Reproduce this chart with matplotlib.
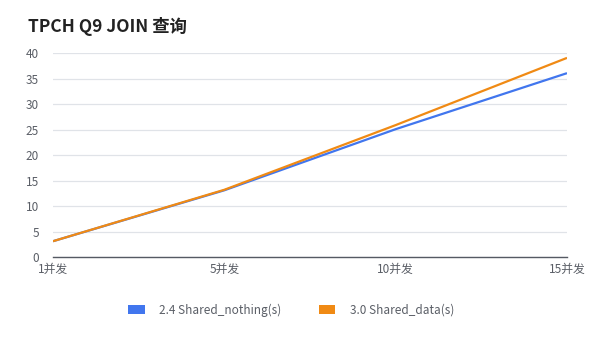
import matplotlib
matplotlib.use('Agg')
import matplotlib.pyplot as plt
from matplotlib.patches import Patch

plt.rcParams['font.family'] = ['Noto Sans CJK SC', 'DejaVu Sans']

categories = ['1并发', '5并发', '10并发', '15并发']
shared_nothing = [3.1, 13.1, 25.1, 36.1]
shared_data = [3.1, 13.2, 25.9, 39.1]
series_names = ['2.4 Shared_nothing(s)', '3.0 Shared_data(s)']
colors = ['#4176ee', '#f08a14']
yticks = [0, 5, 10, 15, 20, 25, 30, 35, 40]

fig = plt.figure(figsize=(5.94, 3.41), dpi=100)
ax = fig.add_axes([53/594, 1-257/341, (567-53)/594, (257-53.3)/341])

x = list(range(len(categories)))
ax.plot(x, shared_nothing, color=colors[0], lw=1.6, solid_capstyle='butt')
ax.plot(x, shared_data, color=colors[1], lw=1.6, solid_capstyle='butt')

ax.set_xlim(0, len(categories)-1)
ax.set_ylim(0, 40)
ax.set_xticks(x)
ax.set_xticklabels(categories)
ax.set_yticks(yticks)
ax.tick_params(axis='both', length=0, labelsize=8.5, labelcolor='#5a5e66')
ax.tick_params(axis='x', pad=4)
ax.tick_params(axis='y', pad=10)
ax.grid(axis='y', color='#e0e3e8', lw=0.9)
ax.set_axisbelow(True)
for s in ['top', 'right', 'left']:
    ax.spines[s].set_visible(False)
ax.spines['bottom'].set_color('#555a63')
ax.spines['bottom'].set_linewidth(1.0)

fig.text(28/594, 1-27/341, 'TPCH Q9 JOIN 查询', fontsize=12.5, fontweight='bold',
         color='#222222', va='center', ha='left')

handles = [Patch(facecolor=c, edgecolor='none') for c in colors]
fig.legend(handles, series_names, loc='center', bbox_to_anchor=(0.49, 1-310/341),
           ncol=2, frameon=False, fontsize=8.5, labelcolor='#5a5e66',
           handlelength=1.4, handleheight=0.7, handletextpad=1.2, columnspacing=3.2)

fig.savefig('out.png', dpi=100, facecolor='white')
